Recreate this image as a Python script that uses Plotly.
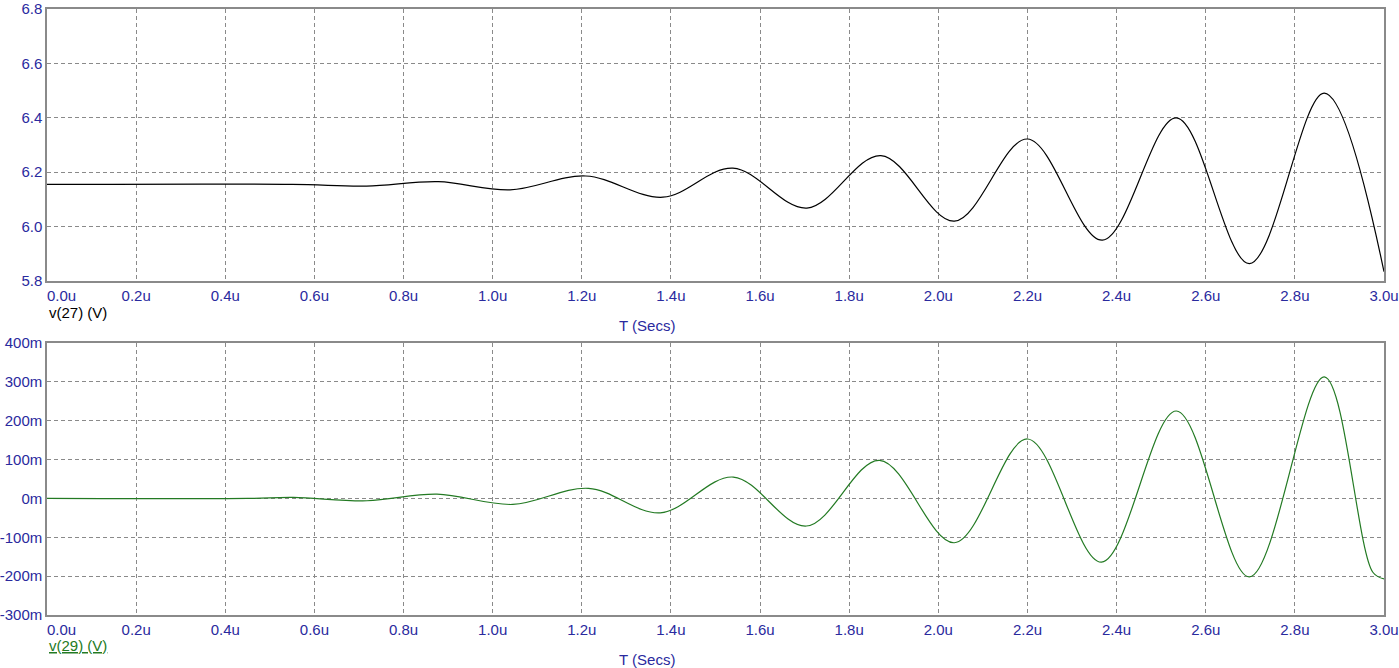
import plotly.graph_objects as go

# ---- data ----
t_top = [0.0, 0.55, 0.717, 0.878, 1.039, 1.209, 1.382, 1.539, 1.705, 1.871, 2.036, 2.200, 2.368, 2.534, 2.698, 2.866, 3.000]
v27 = [6.155, 6.155, 6.149, 6.165, 6.135, 6.186, 6.108, 6.215, 6.068, 6.261, 6.020, 6.322, 5.950, 6.400, 5.864, 6.491, 5.834]

t_bot = [0.0, 0.45, 0.553, 0.718, 0.875, 1.045, 1.215, 1.376, 1.540, 1.704, 1.868, 2.036, 2.200, 2.366, 2.534, 2.698, 2.866, 2.975, 3.000]
v29_mv = [0.0, 0.0, 2.5, -6.0, 11.0, -15.5, 26.0, -37.0, 55.0, -71.0, 98.0, -114.0, 153.0, -164.0, 225.0, -202.0, 313.0, -190.0, -207.0]

x_ticks = [0.0, 0.2, 0.4, 0.6, 0.8, 1.0, 1.2, 1.4, 1.6, 1.8, 2.0, 2.2, 2.4, 2.6, 2.8, 3.0]
x_labels = ["\u00a0\u00a0\u00a0\u00a0\u00a0\u00a0\u00a00.0u", "0.2u", "0.4u", "0.6u", "0.8u", "1.0u", "1.2u", "1.4u", "1.6u", "1.8u",
            "2.0u", "2.2u", "2.4u", "2.6u", "2.8u", "3.0u"]
y1_ticks = [5.8, 6.0, 6.2, 6.4, 6.6, 6.8]
y1_labels = ["5.8", "6.0", "6.2", "6.4", "6.6", "6.8"]
y2_ticks = [-300, -200, -100, 0, 100, 200, 300, 400]
y2_labels = ["-300m", "-200m", "-100m", "0m", "100m", "200m", "300m", "400m"]

FONT = "Liberation Sans, Arial, sans-serif"
FS = 15
BLUE = "#2a2a9e"
GRID = "#8a8a8a"
GREEN = "#237a23"

fig = go.Figure()
fig.add_trace(go.Scatter(x=t_top, y=v27, mode="lines", line=dict(color="black", width=1.2, shape="spline"),
                         xaxis="x", yaxis="y", showlegend=False, hoverinfo="skip"))
fig.add_trace(go.Scatter(x=t_bot, y=v29_mv, mode="lines", line=dict(color=GREEN, width=1.2, shape="spline"),
                         xaxis="x2", yaxis="y2", showlegend=False, hoverinfo="skip"))

axis_common = dict(showgrid=True, gridcolor=GRID, gridwidth=1, griddash="4px,3px",
                   showline=True, linecolor=GRID, linewidth=1.5, mirror=True, automargin=False,
                   zeroline=False, ticks="", tickfont=dict(family=FONT, size=FS, color=BLUE))

top_dom = [(615 - 281) / 606, 1.0]
bot_dom = [0.0, (615 - 343) / 606]

fig.update_layout(
    width=1399, height=668,
    margin=dict(l=47, r=15, t=9, b=53),
    paper_bgcolor="white", plot_bgcolor="white",
    xaxis=dict(axis_common, domain=[0, 1], anchor="y", range=[0, 3], tickvals=x_ticks, ticktext=x_labels),
    yaxis=dict(axis_common, domain=top_dom, anchor="x", range=[5.8, 6.8], tickvals=y1_ticks, ticktext=y1_labels),
    xaxis2=dict(axis_common, domain=[0, 1], anchor="y2", range=[0, 3], tickvals=x_ticks, ticktext=x_labels),
    yaxis2=dict(axis_common, domain=bot_dom, anchor="x2", range=[-300, 400], tickvals=y2_ticks, ticktext=y2_labels),
    annotations=[
        dict(text="v(27) (V)", xref="paper", yref="paper", x=0, y=(615 - 312) / 606, xanchor="left", yanchor="middle",
             showarrow=False, font=dict(family=FONT, size=FS, color="black")),
        dict(text="T (Secs)", xref="paper", yref="paper", x=(647 - 47) / 1337, y=(615 - 326) / 606, xanchor="center",
             yanchor="middle", showarrow=False, font=dict(family=FONT, size=FS, color=BLUE)),
        dict(text="<u>v(29) (V)</u>", xref="paper", yref="paper", x=0, y=(615 - 645) / 606, xanchor="left",
             yanchor="middle", showarrow=False, font=dict(family=FONT, size=FS, color=GREEN)),
        dict(text="T (Secs)", xref="paper", yref="paper", x=(647 - 47) / 1337, y=(615 - 659) / 606, xanchor="center",
             yanchor="middle", showarrow=False, font=dict(family=FONT, size=FS, color=BLUE)),
    ],
)

fig.write_html("out.html", config={"displayModeBar": False},
               post_script="document.body.style.margin='0px';document.body.style.overflow='hidden';")
